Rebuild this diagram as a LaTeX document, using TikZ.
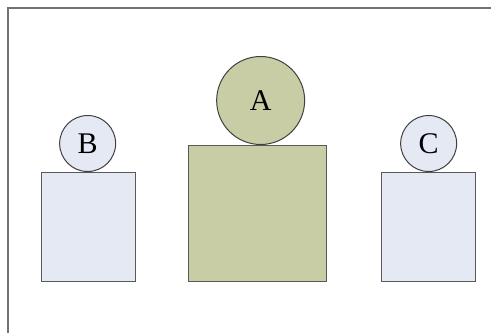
\documentclass[tikz,border=0pt]{standalone}
\usepackage{fontspec}
\setmainfont{Liberation Serif}
\begin{document}
\begin{tikzpicture}[x=1pt,y=-1pt,
  bluebox/.style={draw=black!65,line width=1.3pt,fill=blueface,inner sep=0pt,minimum width=94pt,minimum height=109pt},
  greenbox/.style={draw=black!65,line width=1.3pt,fill=greenface,inner sep=0pt,minimum width=138pt,minimum height=136pt},
  ball/.style={circle,draw=black!75,line width=1pt,inner sep=0pt,font=\fontsize{30}{32}\selectfont},
]
\definecolor{blueface}{HTML}{E4E9F4}
\definecolor{greenface}{HTML}{C8CDA6}
\useasboundingbox (0,0) rectangle (491,333);
\fill[white] (0,0) rectangle (491,333);
\coordinate (fbl) at (8,333);
\coordinate (ftl) at (8,8);
\coordinate (ftr) at (491,8);
\draw[black!55,line width=1.5pt] (fbl) -- (ftl) -- (ftr);
\node[bluebox,anchor=north west] (boxB) at (41,172) {};
\node[greenbox,anchor=north west] (boxA) at (188,145) {};
\node[bluebox,anchor=north west] (boxC) at (381,172) {};
\node[ball,fill=blueface,minimum size=56pt,anchor=south] (B) at ([xshift=-1pt]boxB.north) {B};
\node[ball,fill=greenface,minimum size=88pt,anchor=south] (A) at ([xshift=3pt]boxA.north) {A};
\node[ball,fill=blueface,minimum size=56pt,anchor=south] (C) at (boxC.north) {C};
\end{tikzpicture}
\end{document}
